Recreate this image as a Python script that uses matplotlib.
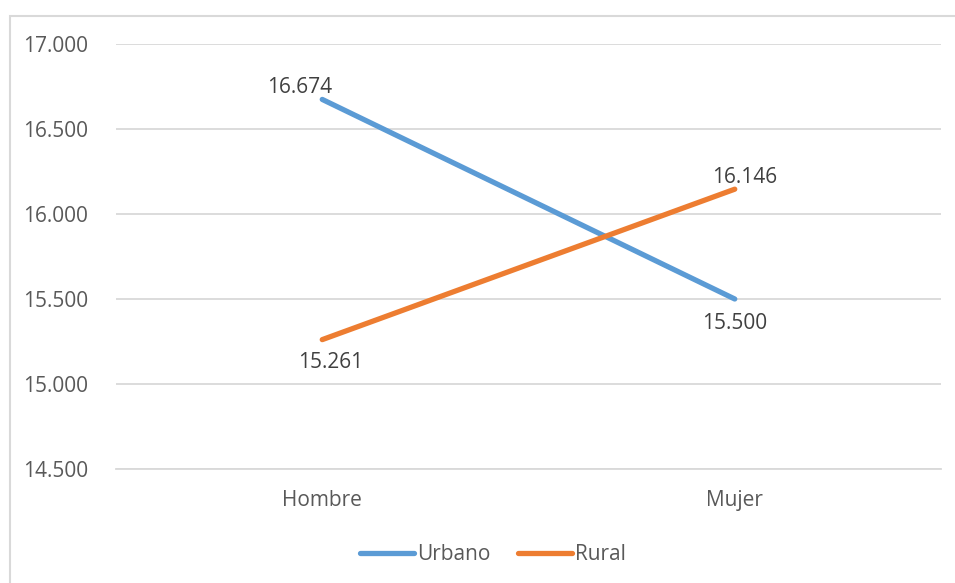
from matplotlib import pyplot as plt
from matplotlib.patches import Rectangle
from matplotlib.ticker import FuncFormatter

# Data
categorias = ['Hombre', 'Mujer']
urbano = [16674, 15500]
rural = [15261, 16146]

azul = '#5b9bd5'
naranja = '#ed7d31'
gris_texto = '#595959'
gris_linea = '#d9d9d9'

plt.rcParams['font.family'] = ['Open Sans', 'DejaVu Sans']


def miles(v, pos=None):
    return f'{int(round(v)):,}'.replace(',', '.')


fig = plt.figure(figsize=(9.55, 5.83), dpi=100)
ax = fig.add_axes([116 / 955, 1 - 469 / 583, (941 - 116) / 955, (469 - 44) / 583])

# chart border
fig.patches.append(Rectangle((10 / 955, -0.1), 1.2, 1 - 16 / 583 + 0.1,
                             transform=fig.transFigure, fill=False,
                             edgecolor=gris_linea, linewidth=1.5))

x = [0, 1]
ax.plot(x, urbano, color=azul, lw=3.8, solid_capstyle='round', label='Urbano')
ax.plot(x, rural, color=naranja, lw=3.8, solid_capstyle='round', label='Rural')

# data labels
offsets_u = [(-16, 1, 'bottom'), (0, -10, 'top')]
offsets_r = [(6, -9, 'top'), (7, 1, 'bottom')]
for i in range(2):
    dx, dy, va = offsets_u[i]
    ax.annotate(miles(urbano[i]), (x[i], urbano[i]), xytext=(dx, dy),
                textcoords='offset points', ha='center', va=va,
                fontsize=15, color='#404040')
    dx, dy, va = offsets_r[i]
    ax.annotate(miles(rural[i]), (x[i], rural[i]), xytext=(dx, dy),
                textcoords='offset points', ha='center', va=va,
                fontsize=15, color='#404040')

ax.set_xlim(-0.5, 1.5)
ax.set_ylim(14500, 17000)
ax.set_yticks(range(14500, 17001, 500))
ax.yaxis.set_major_formatter(FuncFormatter(miles))
ax.set_xticks(x)
ax.set_xticklabels(categorias)
ax.tick_params(axis='both', length=0, labelsize=15, labelcolor=gris_texto)
ax.tick_params(axis='y', pad=20)
ax.tick_params(axis='x', pad=15)
ax.grid(axis='y', color=gris_linea, lw=1.3)
ax.set_axisbelow(True)
for s in ax.spines.values():
    s.set_visible(False)
ax.spines['bottom'].set_visible(True)
ax.spines['bottom'].set_color(gris_linea)
ax.spines['bottom'].set_linewidth(1.3)

leg = fig.legend(loc='center', bbox_to_anchor=(493 / 955, 1 - 555 / 583),
                 ncol=2, frameon=False, fontsize=15, handlelength=2.6,
                 handletextpad=0.15, columnspacing=1.3)
for t in leg.get_texts():
    t.set_color(gris_texto)

plt.savefig('out.png', dpi=100)
